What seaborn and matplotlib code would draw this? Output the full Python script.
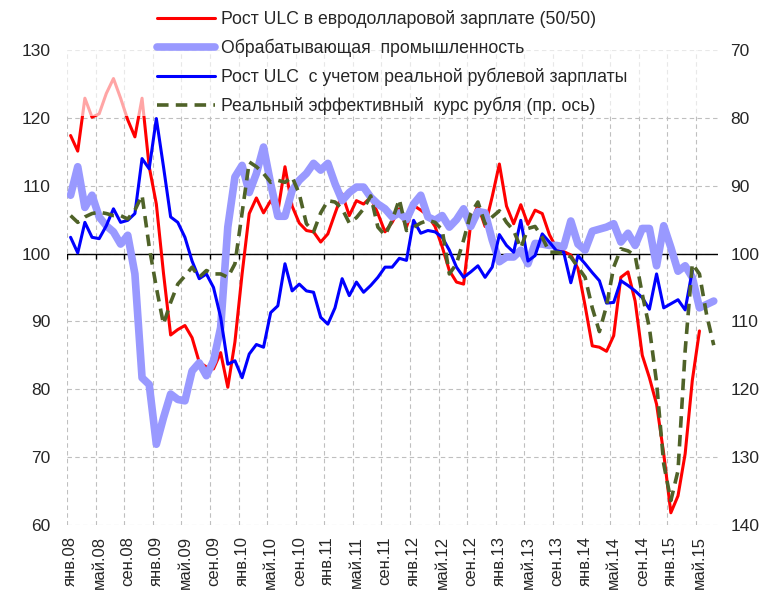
import numpy as np
import matplotlib
matplotlib.use("Agg")
import matplotlib.pyplot as plt
import seaborn as sns

# monthly values, Jan 2008 onwards
red_ulc_eurusd = [117.4, 115.1, 122.9, 120.1, 120.6, 123.6, 125.8, 122.9, 119.7, 117.2,
                  122.9, 112.8, 107.3, 97.1, 88.0, 88.8, 89.4, 87.6, 84.0, 83.3,
                  83.0, 85.4, 80.3, 87.0, 97.0, 105.9, 108.2, 106.0, 107.8, 106.2,
                  112.8, 107.0, 104.5, 103.4, 103.2, 101.7, 102.9, 105.9, 108.8, 105.6,
                  107.8, 107.3, 108.3, 105.9, 103.2, 104.6, 106.6, 103.9, 107.1, 106.4,
                  105.6, 104.0, 101.0, 97.5, 95.8, 95.5, 104.5, 107.1, 104.0, 108.4,
                  113.2, 107.0, 104.4, 107.2, 104.3, 106.4, 105.9, 102.8, 100.8, 100.3,
                  99.8, 97.8, 92.3, 86.4, 86.2, 85.6, 87.9, 96.5, 97.3, 93.0,
                  85.0, 81.7, 77.8, 70.5, 61.8, 64.3, 70.5, 81.3, 88.6]

manufacturing = [108.6, 112.8, 106.8, 108.6, 105.4, 104.1, 103.2, 101.4, 102.7, 97.0,
                 81.7, 80.7, 71.9, 75.8, 79.3, 78.5, 78.3, 82.7, 83.9, 82.0,
                 84.2, 89.1, 103.9, 111.3, 113.0, 109.0, 111.8, 115.7, 110.3, 105.5,
                 105.5, 109.3, 110.8, 111.8, 113.3, 112.3, 113.3, 110.3, 107.8, 109.0,
                 109.8, 109.8, 108.3, 107.3, 106.6, 105.4, 106.0, 105.0, 107.3, 108.6,
                 105.4, 104.9, 105.6, 103.9, 105.0, 106.6, 104.0, 106.2, 106.0, 102.0,
                 98.8, 99.5, 99.5, 100.5, 98.5, 101.5, 101.4, 101.2, 101.2, 101.0,
                 104.8, 101.4, 100.5, 103.3, 103.6, 103.9, 104.4, 101.7, 103.0, 101.2,
                 103.7, 103.7, 98.2, 104.1, 100.9, 97.4, 98.2, 96.5, 92.0, 92.5, 93.0]

blue_ulc_rub = [102.4, 100.1, 104.6, 102.4, 102.2, 104.1, 106.6, 104.6, 104.9, 105.9,
                114.0, 112.5, 119.9, 112.8, 105.4, 104.6, 102.4, 98.9, 96.3, 97.0,
                95.0, 90.6, 83.7, 84.2, 81.7, 85.2, 86.6, 86.2, 91.3, 92.3,
                98.5, 94.5, 95.5, 94.5, 94.3, 90.6, 89.6, 92.0, 96.3, 93.8,
                95.8, 94.3, 95.3, 96.5, 98.0, 98.0, 99.3, 99.0, 104.9, 103.0,
                103.4, 103.2, 102.4, 100.5, 98.0, 96.5, 97.3, 98.2, 96.5, 98.0,
                102.8, 101.2, 100.2, 104.9, 98.9, 99.7, 102.9, 101.7, 100.4, 100.2,
                95.7, 99.7, 98.5, 97.2, 96.0, 92.7, 92.8, 96.0, 95.3, 94.5,
                93.5, 91.8, 97.0, 92.0, 92.6, 93.2, 91.7, 97.5]

# real effective rouble rate, right (inverted) axis
reer_right = [94.4, 95.4, 94.6, 94.1, 93.9, 94.1, 94.4, 94.4, 94.9, 93.6,
              91.4, 99.0, 105.0, 110.4, 107.2, 104.5, 103.3, 102.0, 103.5, 102.5,
              103.0, 103.0, 103.5, 101.5, 94.0, 86.5, 87.2, 88.2, 89.5, 89.2,
              89.5, 88.7, 91.2, 95.6, 96.8, 94.0, 92.2, 92.4, 93.4, 95.5,
              94.7, 93.4, 91.5, 96.1, 97.3, 95.1, 92.0, 96.6, 96.1, 95.5,
              95.1, 95.4, 96.5, 103.0, 101.5, 98.0, 94.1, 92.4, 95.6, 94.6,
              93.7, 95.4, 96.6, 99.2, 96.3, 96.0, 97.6, 99.8, 99.8, 100.0,
              100.5, 102.0, 103.5, 108.0, 111.5, 107.7, 102.0, 99.3, 99.6, 100.3,
              106.0, 111.0, 119.0, 131.0, 136.4, 132.0, 114.3, 101.5, 103.0, 109.0, 113.5]

tick_labels = ["янв.08", "май.08", "сен.08", "янв.09", "май.09", "сен.09",
               "янв.10", "май.10", "сен.10", "янв.11", "май.11", "сен.11",
               "янв.12", "май.12", "сен.12", "янв.13", "май.13", "сен.13",
               "янв.14", "май.14", "сен.14", "янв.15", "май.15"]

labels = ["Рост ULC в евродолларовой зарплате (50/50)",
          "Обрабатывающая  промышленность",
          "Рост ULC  с учетом реальной рублевой зарплаты",
          "Реальный эффективный  курс рубля (пр. ось)"]

sns.set_style("white")
plt.rcParams['font.family'] = ['Liberation Sans', 'DejaVu Sans']

fig = plt.figure(figsize=(7.65, 5.92), dpi=100)
ax = fig.add_axes([0.0876, 0.1132, 0.851, 0.8023])
ax2 = ax.twinx()

sns.lineplot(x=np.arange(len(red_ulc_eurusd)), y=red_ulc_eurusd, ax=ax,
             color="#ff0000", lw=2.2, label=labels[0], zorder=3)
sns.lineplot(x=np.arange(len(manufacturing)), y=manufacturing, ax=ax,
             color="#9999ff", lw=5.5, label=labels[1], zorder=4)
sns.lineplot(x=np.arange(len(blue_ulc_rub)), y=blue_ulc_rub, ax=ax,
             color="#0000ff", lw=2.2, label=labels[2], zorder=5)
sns.lineplot(x=np.arange(len(reer_right)), y=reer_right, ax=ax2,
             color="#4f6228", lw=2.6, label=labels[3], zorder=5)
ax2.lines[0].set_dashes([3.2, 2.0])

ax.set_xlim(-0.5, 90.6)
ax.set_ylim(60, 130)
ax2.set_ylim(140, 70)
ax.set_yticks(range(60, 131, 10))
ax2.set_yticks(range(70, 141, 10))

month_pos = np.arange(0, 89, 4)
bounds = np.arange(-0.5, 88, 4)
ax.set_xticks(month_pos)
ax.set_xticklabels(tick_labels, rotation=90, fontsize=12, color="#262626")
ax.set_xticks(bounds, minor=True)
ax.tick_params(axis="x", which="both", length=0, pad=8)
ax.tick_params(axis="y", length=0, pad=12, labelsize=12.5, labelcolor="#262626")
ax2.tick_params(axis="y", length=0, pad=9, labelsize=12.5, labelcolor="#262626")

grid_kw = dict(color="#bfbfbf", lw=0.8, ls=(0, (4, 3)))
ax.yaxis.grid(True, **grid_kw)
ax.xaxis.grid(True, which="minor", **grid_kw)
ax.xaxis.grid(False, which="major")
ax.set_axisbelow(True)

# axis line at 100 with ticks
ax.axhline(100, color="black", lw=1, zorder=2)
ax.vlines(bounds, 99.25, 100, color="black", lw=1, zorder=2)

for a in (ax, ax2):
    for s in a.spines.values():
        s.set_visible(False)
ax.set_xlabel("")
ax.set_ylabel("")
ax2.set_ylabel("")

# translucent band behind legend
ax.axhspan(120.3, 131, color="white", alpha=0.65, zorder=8, lw=0)

h1, _ = ax.get_legend_handles_labels()
h2, _ = ax2.get_legend_handles_labels()
ax.get_legend().remove()
ax2.get_legend().remove()
fig.legend(h1 + h2, labels, loc="upper left", bbox_to_anchor=(0.205, 0.983),
           frameon=False, fontsize=12.7, handlelength=3.3, handletextpad=0.35,
           labelspacing=0.6, borderpad=0, borderaxespad=0)

fig.savefig("out.png", dpi=100)
